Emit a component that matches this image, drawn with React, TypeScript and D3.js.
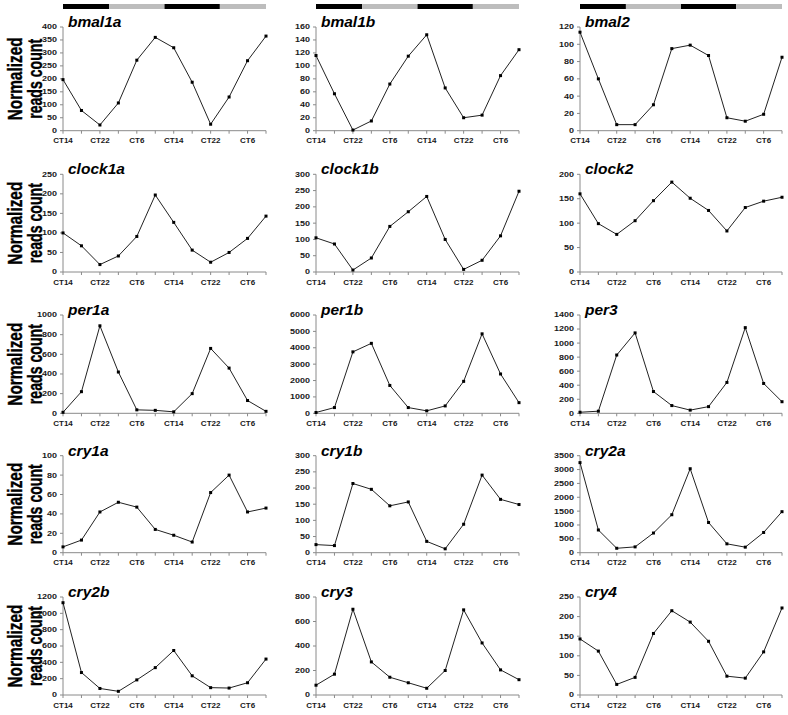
import React from 'react';
import * as d3 from 'd3';

// sampling times, every 4 h over two days
const timeLabels = ['CT14', 'CT18', 'CT22', 'CT2', 'CT6', 'CT10', 'CT14', 'CT18', 'CT22', 'CT2', 'CT6', 'CT10'];
const timeHours = [14, 18, 22, 26, 30, 34, 38, 42, 46, 50, 54, 58];
// light regime bar above the top row: [phase, from hour, to hour]
const lightPhases: [string, number, number][] = [
  ['dark', 14, 24],
  ['light', 24, 36],
  ['dark', 36, 48],
  ['light', 48, 58],
];

const bmal1a = [197, 78, 22, 107, 272, 360, 320, 187, 25, 130, 270, 365];
const bmal1b = [116, 57, 1, 15, 72, 115, 148, 66, 20, 24, 85, 125];
const bmal2 = [114, 60, 7, 7, 30, 95, 99, 87, 15, 11, 19, 85];
const clock1a = [100, 67, 19, 41, 91, 197, 127, 56, 25, 50, 86, 143];
const clock1b = [105, 86, 6, 43, 140, 185, 232, 100, 8, 36, 111, 248];
const clock2 = [160, 99, 77, 105, 146, 184, 151, 126, 84, 132, 145, 153];
const per1a = [10, 220, 890, 420, 35, 30, 15, 200, 660, 460, 130, 20];
const per1b = [50, 350, 3750, 4270, 1700, 350, 150, 450, 1950, 4850, 2400, 650];
const per3 = [15, 30, 830, 1145, 310, 110, 45, 95, 440, 1220, 425, 165];
const cry1a = [6, 13, 42, 52, 47, 24, 18, 11, 62, 80, 42, 46];
const cry1b = [25, 22, 214, 196, 145, 157, 35, 12, 88, 240, 165, 149];
const cry2a = [3250, 820, 160, 210, 710, 1370, 3030, 1090, 320, 200, 730, 1480];
const cry2b = [1130, 275, 80, 45, 185, 335, 545, 235, 90, 85, 150, 440];
const cry3 = [80, 170, 700, 270, 145, 100, 55, 200, 695, 425, 205, 125];
const cry4 = [143, 112, 27, 45, 157, 215, 186, 137, 48, 43, 110, 222];

const geneNames = ['bmal1a', 'bmal1b', 'bmal2', 'clock1a', 'clock1b', 'clock2', 'per1a', 'per1b', 'per3',
  'cry1a', 'cry1b', 'cry2a', 'cry2b', 'cry3', 'cry4'];
const geneValues = [bmal1a, bmal1b, bmal2, clock1a, clock1b, clock2, per1a, per1b, per3,
  cry1a, cry1b, cry2a, cry2b, cry3, cry4];
const axisMax = [400, 160, 120, 250, 300, 200, 1000, 6000, 1400, 100, 300, 3500, 1200, 800, 250];
const axisStep = [50, 20, 20, 50, 50, 50, 200, 1000, 200, 20, 50, 500, 200, 200, 50];

const rowTop = [27, 174.3, 315, 455.7, 597];
const rowBottom = [130.7, 272, 413.3, 552.7, 695];
const colLeft = [63, 316, 580];
const colRight = [266, 519, 782];

const font = '"Liberation Sans", Arial, sans-serif';
const axisColor = '#8a8a8a';

const Panel: React.FC<{ p: number }> = ({ p }) => {
  const row = Math.floor(p / 3);
  const col = p % 3;
  const L = colLeft[col];
  const R = colRight[col];
  const T = rowTop[row];
  const B = rowBottom[row];
  const values = geneValues[p];
  const max = axisMax[p];

  const x = d3.scaleLinear([0, timeLabels.length - 1], [L, R]);
  const hx = d3.scaleLinear([timeHours[0], timeHours[timeHours.length - 1]], [L, R]);
  const y = d3.scaleLinear([0, max], [B, T]);
  const ticks = d3.range(0, max + axisStep[p] / 2, axisStep[p]);
  const line = d3.line<number>().x((_, i) => x(i)).y((d) => y(d));

  return (
    <g>
      {row === 0 && lightPhases.map(([phase, a, b], i) => (
        <rect key={i} x={hx(a)} y={4} width={hx(b) - hx(a)} height={5}
          fill={phase === 'dark' ? '#000' : '#bdbdbd'} />
      ))}
      <text x={L + 5} y={T} fontFamily={font} fontSize={15.5} fontWeight="bold" fontStyle="italic">
        {geneNames[p]}
      </text>
      <line x1={L} x2={L} y1={T} y2={B} stroke={axisColor} strokeWidth={1} />
      <line x1={L} x2={R} y1={B} y2={B} stroke={axisColor} strokeWidth={1} />
      {ticks.map((t) => (
        <g key={t}>
          <line x1={L - 3} x2={L} y1={y(t)} y2={y(t)} stroke={axisColor} />
          <text transform={`translate(${L - 6},${y(t)}) scale(1,0.75)`} dy="0.36em" textAnchor="end"
            fontFamily={font} fontSize={9} fontWeight="bold" fill="#1a1a1a">{t}</text>
        </g>
      ))}
      {timeLabels.map((lab, i) => (
        <g key={i}>
          <line x1={x(i)} x2={x(i)} y1={B} y2={B + 3} stroke={axisColor} />
          {i % 2 === 0 && (
            <text transform={`translate(${x(i)},${B + 12.5}) scale(1,0.8)`} textAnchor="middle"
              fontFamily={font} fontSize={8} fontWeight="bold" fill="#1a1a1a">{lab}</text>
          )}
        </g>
      ))}
      <path d={line(values) ?? ''} fill="none" stroke="#222" strokeWidth={1} />
      {values.map((v, i) => (
        <rect key={i} x={x(i) - 1.5} y={y(v) - 1.5} width={3} height={3} fill="#000" />
      ))}
    </g>
  );
};

const App: React.FC = () => {
  return (
    <svg width={788} height={715} style={{ position: 'absolute', left: 0, top: 0, background: '#fff' }}>
      <rect width={788} height={715} fill="#fff" />
      {rowTop.map((t, r) => {
        const mid = (t + rowBottom[r]) / 2;
        return (
          <g key={r} fontFamily={font} fontWeight="bold" fontSize={21} fill="#000" stroke="#000" strokeWidth={0.4}>
            <text transform={`translate(22,${mid}) rotate(-90)`} textAnchor="middle"
              textLength={83} lengthAdjust="spacingAndGlyphs">Normalized</text>
            <text transform={`translate(42,${mid}) rotate(-90)`} textAnchor="middle"
              textLength={80} lengthAdjust="spacingAndGlyphs">reads count</text>
          </g>
        );
      })}
      {geneNames.map((_, p) => <Panel key={p} p={p} />)}
    </svg>
  );
};

export default App;
